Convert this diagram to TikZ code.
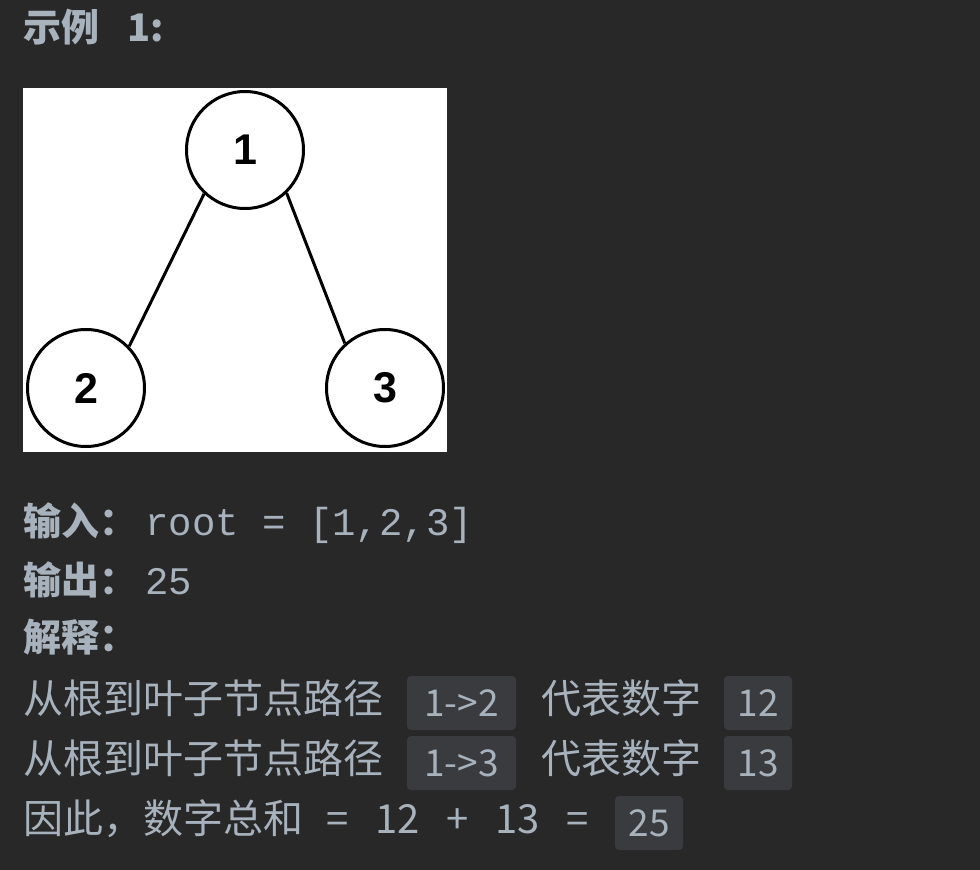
\documentclass[tikz,border=0pt]{standalone}
\usepackage{fontspec}
\newfontfamily\cjk{Noto Sans CJK SC}
\newfontfamily\codefont{Liberation Mono}
\newfontfamily\treefont{Liberation Sans}
\definecolor{pagebg}{RGB}{40,40,40}
\definecolor{fg}{RGB}{168,178,189}
\definecolor{boxbg}{RGB}{58,59,62}
\tikzset{
  treenode/.style={circle, draw=black, fill=white, line width=3pt, minimum size=117pt, inner sep=0pt,
    font=\treefont\bfseries\fontsize{43}{43}\selectfont},
  plain/.style={anchor=base west, inner sep=0pt, text=fg, font=\cjk\fontsize{40}{40}\selectfont},
  heading/.style={plain, font=\cjk\bfseries\fontsize{38}{38}\selectfont},
  code/.style={plain, font=\codefont\fontsize{39}{39}\selectfont},
  codebox/.style={fill=boxbg, rounded corners=4pt, minimum height=54pt, inner sep=0pt, text=fg,
    font=\cjk\fontsize{37}{37}\selectfont}
}
\begin{document}
\begin{tikzpicture}[x=1pt, y=-1pt]

% Tausta
\fill[pagebg] (0,0) rectangle (980,870);
\useasboundingbox (0,0) rectangle (980,870);

% Otsikko
\node[heading] (title) at (23,41) {示例};
\node[heading] (titlenum) at (127,41) {1:};

% Puu
\fill[white] (23,88) rectangle (447,452);
\node[treenode] (n1) at (245,150) {1};
\node[treenode] (n2) at (86,388) {2};
\node[treenode] (n3) at (385,388) {3};
\draw[line width=3pt] (n1.227) -- (n2.44);
\draw[line width=3pt] (n1.314) -- (n3.132);

% Syote ja tulos
\node[heading] (inlbl) at (23,535) {输入：};
\node[code] (intxt) at (145,535) {root = [1,2,3]};
\node[heading] (outlbl) at (23,594) {输出：};
\node[code] (outtxt) at (145,594) {25};
\node[heading] (explbl) at (23,651) {解释：};

% Selitys
\foreach \y/\p/\n in {713/1->2/12, 773/1->3/13}{
  \node[plain] at (23,\y) {从根到叶子节点路径};
  \node[codebox, minimum width=109pt] at (461.5,\y-10) {\p};
  \node[plain] at (541,\y) {代表数字};
  \node[codebox, minimum width=68pt] at (758,\y-10) {\n};
}
\node[plain] (sumtxt) at (23,833) {因此，数字总和};
\foreach \x/\t in {326/=, 375/12, 446/+, 495/13, 566/=}
  \node[plain] at (\x,833) {\t};
\node[codebox, minimum width=68pt] (sumbox) at (649,823) {25};

\end{tikzpicture}
\end{document}
